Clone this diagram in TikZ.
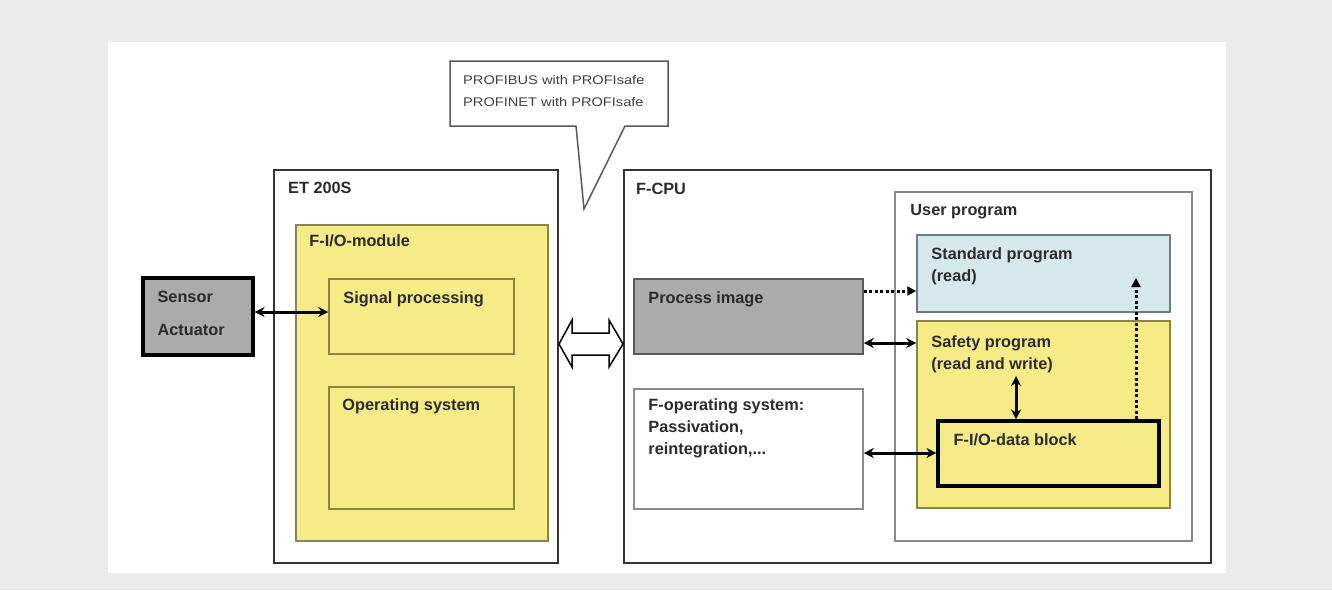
\documentclass[tikz,border=0pt]{standalone}
\usepackage{fontspec}
\setmainfont{Liberation Sans}
\usetikzlibrary{fit,arrows.meta}
\definecolor{bggrey}{HTML}{EBEBEB}
\definecolor{txt}{HTML}{2B2B2B}
\definecolor{yel}{HTML}{F7EB88}
\definecolor{yelborder}{HTML}{8C8445}
\definecolor{greyfill}{HTML}{ABABAB}
\definecolor{bluefill}{HTML}{D5E9EC}
\definecolor{blueborder}{HTML}{6E7B80}
\definecolor{thinborder}{HTML}{8A8A8A}
\definecolor{outerborder}{HTML}{333333}
\begin{document}
\begin{tikzpicture}[x=1pt,y=-1pt,
  box/.style={draw, rectangle, inner sep=0pt},
  outerbox/.style={box, draw=outerborder, line width=2pt, fill=white},
  userbox/.style={box, draw=thinborder, line width=1.5pt, fill=white},
  yelbox/.style={box, draw=yelborder, line width=1.5pt, fill=yel},
  greybox/.style={box, draw=black!65, line width=1.5pt, fill=greyfill},
  bluebox/.style={box, draw=blueborder, line width=1.5pt, fill=bluefill},
  whitebox/.style={box, draw=thinborder, line width=1.5pt, fill=white},
  heavybox/.style={box, draw=black, line width=3.2pt},
  lbl/.style={anchor=north west, inner sep=0pt, align=left, text=txt,
    font=\bfseries\fontsize{16.3}{22}\selectfont},
  small/.style={anchor=base west, inner sep=0pt, text=black!75,
    font=\fontsize{12.5}{14}\selectfont},
  dbl/.style={line width=3pt, {Stealth[length=10pt,width=10pt]}-{Stealth[length=10pt,width=10pt]}},
  dots/.style={line width=3pt, dash pattern=on 3pt off 2.5pt, -{Triangle[length=9pt,width=9pt]}}
]
\fill[bggrey] (0,0) rectangle (1332,590);
\fill[white] (108,42) rectangle (1226,573);
\useasboundingbox (0,0) rectangle (1332,590);

% callout
\draw[draw=black!65, line width=1.5pt, fill=white, line join=miter]
  (450,61) -- (668,61) -- (668,126) -- (625,126) -- (584,209) -- (576,126) -- (450,126) -- cycle;
\node[small] (pb) at (463,84) {\scalebox{1.17}[1]{PROFIBUS with PROFIsafe}};
\node[small] (pn) at (463,106) {\scalebox{1.17}[1]{PROFINET with PROFIsafe}};

% Sensor / Actuator
\node[heavybox, fill=greyfill, fit={(143,278) (253,355)},
  label={[lbl, font=\bfseries\fontsize{16.3}{33}\selectfont, xshift=16pt, yshift=-15pt]north west:Sensor\\Actuator}] (sensor) {};

% ET 200S
\node[outerbox, fit={(274,170) (558,563)},
  label={[lbl, xshift=15pt, yshift=-13pt]north west:ET 200S}] (et) {};
\node[yelbox, fit={(296,225) (548,541)},
  label={[lbl, xshift=14pt, yshift=-10pt]north west:F-I/O-module}] (fio) {};
\node[yelbox, fit={(329,279) (514,354)},
  label={[lbl, xshift=15pt, yshift=-13pt]north west:Signal processing}] (sig) {};
\node[yelbox, fit={(329,387) (514,509)},
  label={[lbl, xshift=14pt, yshift=-12pt]north west:Operating system}] (os) {};

% F-CPU
\node[outerbox, fit={(624,170) (1211,563)},
  label={[lbl, xshift=13pt, yshift=-14pt]north west:F-CPU}] (cpu) {};
\node[greybox, fit={(634,279) (863,354)},
  label={[lbl, xshift=15pt, yshift=-13pt]north west:Process image}] (pi) {};
\node[whitebox, fit={(634,389) (863,509)},
  label={[lbl, xshift=15pt, yshift=-10pt]north west:F-operating system:\\Passivation,\\reintegration,...}] (fop) {};
\node[userbox, fit={(895,192) (1192,541)},
  label={[lbl, xshift=16pt, yshift=-13pt]north west:User program}] (user) {};
\node[bluebox, fit={(917,235) (1170,312)},
  label={[lbl, xshift=15pt, yshift=-13pt]north west:Standard program\\(read)}] (std) {};
\node[yelbox, fit={(917,321) (1170,508)},
  label={[lbl, xshift=15pt, yshift=-15pt]north west:Safety program\\(read and write)}] (safe) {};
\node[heavybox, fill=yel, fit={(938,421) (1159,486)},
  label={[lbl, xshift=17pt, yshift=-14pt]north west:F-I/O-data block}] (fiodb) {};

% hollow double arrow between ET 200S and F-CPU
\draw[line width=1.5pt, fill=white, line join=miter]
  (et.east |- 0,344) -- (572,320) -- (572,333) -- (609,333) -- (609,320) -- (cpu.west |- 0,344)
  -- (609,367) -- (609,355) -- (572,355) -- (572,367) -- cycle;

% connectors
\draw[dbl] (sensor.east |- 0,312) -- (sig.west |- 0,312);
\draw[dots] (pi.east |- 0,291) -- (std.west |- 0,291);
\draw[dbl] (pi.east |- 0,343) -- (safe.west |- 0,343);
\coordinate (saftxt) at (1016,376);
\draw[dbl] (saftxt) -- (fiodb.north -| 1016,0);
\draw[dbl] (fop.east |- 0,453) -- (fiodb.west |- 0,453);
\coordinate (stdin) at (1136,278);
\draw[dots] (fiodb.north -| 1136,0) -- (stdin);
\end{tikzpicture}
\end{document}
